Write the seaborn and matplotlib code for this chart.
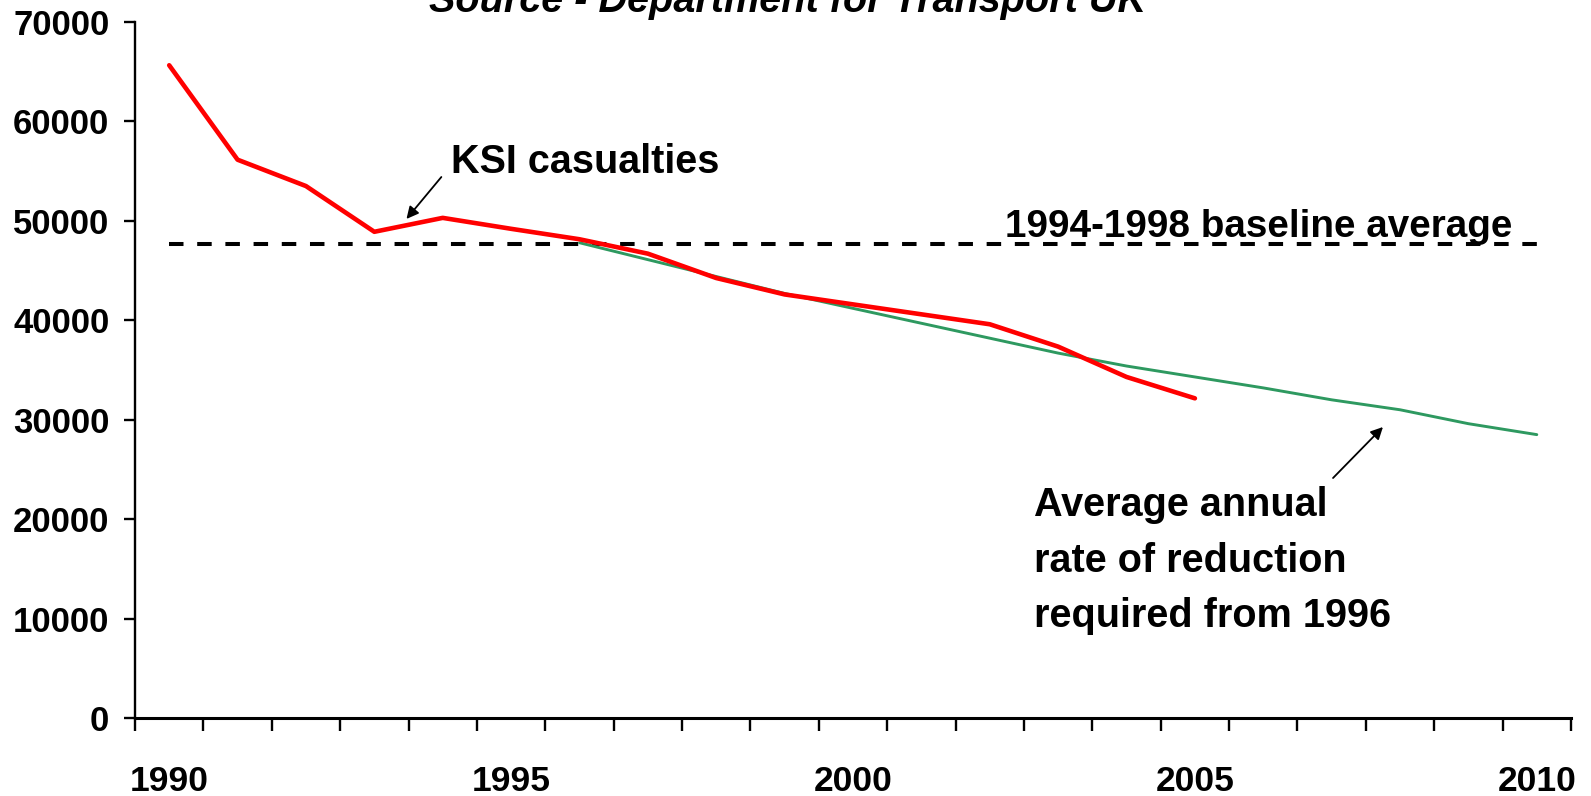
import matplotlib
matplotlib.use("Agg")
import matplotlib.pyplot as plt
import seaborn as sns
import numpy as np
import pandas as pd

# ---- data ----
years = list(range(1990, 2011))
ksi_years = list(range(1990, 2006))
ksi_values = [65650, 56150, 53500, 48900, 50300, 49200, 48150, 46700, 44250,
              42600, 41600, 40600, 39600, 37350, 34300, 32150]
target_years = list(range(1996, 2011))
target_values = [47800, 46100, 44400, 42700, 41200, 39700, 38200, 36700, 35400,
                 34300, 33200, 32000, 31000, 29600, 28500]
baseline_average = 47656
y_ticks = [0, 10000, 20000, 30000, 40000, 50000, 60000, 70000]
x_label_years = [1990, 1995, 2000, 2005, 2010]

title_text = "Source - Department for Transport UK"
ksi_label = "KSI casualties"
baseline_label = "1994-1998 baseline average"
target_label_lines = ["Average annual", "rate of reduction", "required from 1996"]

sns.set_style("ticks")
plt.rcParams['font.family'] = ['Liberation Sans', 'DejaVu Sans']
plt.rcParams['font.weight'] = 'bold'
plt.rcParams['text.color'] = 'black'
plt.rcParams['axes.labelcolor'] = 'black'
plt.rcParams['xtick.color'] = 'black'
plt.rcParams['ytick.color'] = 'black'
plt.rcParams['axes.edgecolor'] = 'black'

fig = plt.figure(figsize=(15.91, 7.96), dpi=100)
ax = fig.add_axes([135 / 1591, 1 - 718 / 796, (1571 - 135) / 1591, (718 - 22) / 796])

ksi_df = pd.DataFrame({"year": ksi_years, "value": ksi_values})
tgt_df = pd.DataFrame({"year": target_years, "value": target_values})

ax.hlines(baseline_average, years[0], years[-1], colors="black",
          linewidth=2.9, linestyles=(0, (3.6, 3.4)), zorder=2)
sns.lineplot(data=tgt_df, x="year", y="value", color="#2E9960", linewidth=2.1,
             ax=ax, zorder=3)
sns.lineplot(data=ksi_df, x="year", y="value", color="#FF0000", linewidth=3.3,
             ax=ax, zorder=4)

ax.set_xlim(years[0] - 0.5, years[-1] + 0.5)
ax.set_ylim(0, 70000)
ax.set_xlabel("")
ax.set_ylabel("")

for s in ["top", "right"]:
    ax.spines[s].set_visible(False)
ax.spines["left"].set_linewidth(1.7)
ax.spines["bottom"].set_linewidth(2.2)

ax.set_yticks(y_ticks)
ax.set_yticklabels([str(v) for v in y_ticks])
ax.tick_params(axis="y", direction="out", length=8, width=1.7, pad=10.5,
               labelsize=25, colors="black")
for lab in ax.get_yticklabels():
    lab.set_fontweight("bold")

ax.set_xticks(x_label_years)
ax.set_xticklabels([str(v) for v in x_label_years])
ax.set_xticks([y - 0.5 for y in years] + [years[-1] + 0.5], minor=True)
ax.tick_params(axis="x", which="major", length=0, pad=33.5, labelsize=25.5,
               colors="black")
ax.tick_params(axis="x", which="minor", direction="out", length=9.4, width=1.7,
               color="black")
for lab in ax.get_xticklabels():
    lab.set_fontweight("bold")

ann_size = 28.5
ax.annotate("", xy=(1993.47, 50190), xytext=(1993.98, 54410),
            arrowprops=dict(arrowstyle="-|>", color="black", lw=1.3,
                            mutation_scale=18, shrinkA=0, shrinkB=0))
ax.text(1994.12, 54810, ksi_label, fontsize=ann_size, fontweight="bold",
        ha="left", va="baseline", color="black")
ax.text(2002.23, 48380, baseline_label, fontsize=27.8, fontweight="bold",
        ha="left", va="baseline", color="black")
ax.annotate("", xy=(2007.75, 29266), xytext=(2007.02, 24138),
            arrowprops=dict(arrowstyle="-|>", color="black", lw=1.3,
                            mutation_scale=18, shrinkA=0, shrinkB=0))
for line, yv in zip(target_label_lines, [20300, 14650, 9120]):
    ax.text(2002.65, yv, line, fontsize=ann_size, fontweight="bold",
            ha="left", va="baseline", color="black")

fig.text(788 / 1591, 1 - 11.7 / 796, title_text, fontsize=28.5, fontweight="bold",
         fontstyle="italic", ha="center", va="baseline", color="black")

fig.savefig("out.png", dpi=100)
